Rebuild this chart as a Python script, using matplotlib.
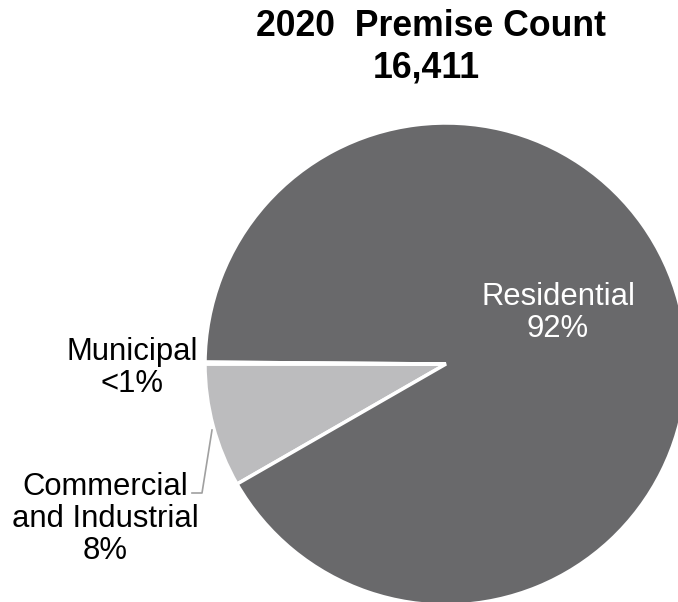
import matplotlib.pyplot as plt

plt.rcParams['font.family'] = ['Liberation Sans', 'DejaVu Sans']

# premise counts per category (total 16,411)
categories = ['Commercial and Industrial', 'Residential', 'Municipal']
counts = [1362, 15029, 20]
pct_labels = ['8%', '92%', '<1%']
colors = ['#bcbcbe', '#69696b', '#ffffff']

W, H = 678, 602
fig = plt.figure(figsize=(W / 100, H / 100), dpi=100)
ax = fig.add_axes([0, 0, 1, 1])

# pie laid out in pixel coordinates
cx, cy, r = 446, H - 364, 241
ax.pie(counts, colors=colors, startangle=180, counterclock=True,
       center=(cx, cy), radius=r,
       wedgeprops=dict(edgecolor='white', linewidth=2.5))
ax.set_xlim(0, W)
ax.set_ylim(0, H)
ax.set_aspect('equal')
ax.axis('off')

# title
ax.text(431, H - 27, '2020  Premise Count', ha='center', va='center',
        fontsize=25.7, fontweight='bold', color='black')
ax.text(426, H - 68, '16,411', ha='center', va='center',
        fontsize=25.7, fontweight='bold', color='black')

fs = 22.3
ax.text(558, H - 313, 'Residential\n' + pct_labels[1], ha='center', va='center',
        fontsize=fs, color='white', linespacing=1.1)
ax.text(132, H - 368, 'Municipal\n' + pct_labels[2], ha='center', va='center',
        fontsize=fs, color='black', linespacing=1.1)
ax.text(105, H - 519, 'Commercial\nand Industrial\n' + pct_labels[0], ha='center',
        va='center', fontsize=fs, color='black', linespacing=1.1)

# leader line for commercial label
ax.plot([212, 202, 192], [H - 430, H - 493, H - 493], color='#a0a0a0', lw=1.2)

fig.savefig('out.png', dpi=100)
